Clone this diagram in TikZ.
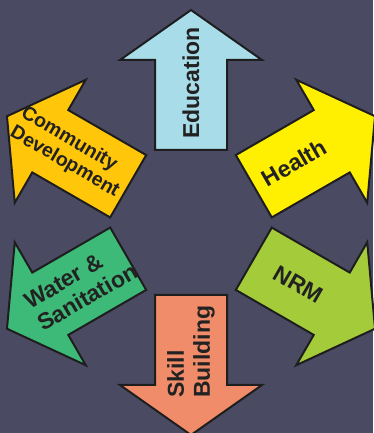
\documentclass[tikz,border=0pt]{standalone}
\usepackage{fontspec}
\setmainfont{Liberation Sans}
\definecolor{bg}{HTML}{4A4A63}
\definecolor{edge}{HTML}{1E1E1E}
\definecolor{txt}{HTML}{222222}
\definecolor{cEdu}{HTML}{A8DCE8}
\definecolor{cHealth}{HTML}{FFEF00}
\definecolor{cNRM}{HTML}{A4CC3A}
\definecolor{cSkill}{HTML}{F08C6A}
\definecolor{cWater}{HTML}{3EBA78}
\definecolor{cComm}{HTML}{FFC60A}
\begin{document}
\begin{tikzpicture}[x=1pt,y=1pt,
  arr/.style={draw=edge, line width=2pt, line join=miter},
  lbl/.style={text=txt, font=\bfseries\fontsize{23}{26}\selectfont, inner sep=0pt, align=left},
  lblsmall/.style={text=txt, font=\bfseries\fontsize{19.5}{22}\selectfont, inner sep=0pt, align=left}]
\useasboundingbox (0,0) rectangle (373,433);
\fill[bg] (0,0) rectangle (373,433);
\coordinate (O) at (191,210.5);
\foreach \ang/\col in {90/cEdu, 30/cHealth, -30/cNRM, 270/cSkill, 210/cWater, 150/cComm}{
  \begin{scope}[shift={(O)}, rotate=\ang]
    \draw[arr, fill=\col] (72.5,-36) -- (162.5,-36) -- (162.5,-71) -- (212.5,0)
      -- (162.5,71) -- (162.5,36) -- (72.5,36) -- cycle;
  \end{scope}
}
\node[lbl, rotate=90] (edu) at ([shift={(90:139.5)}]O) {Education};
\node[lbl, rotate=30] (health) at ([shift={(30:119)}]O) {Health};
\node[lbl, rotate=-30] (nrm) at ([shift={(-30:124)}]O) {NRM};
\node[lbl, rotate=90, anchor=west] (skill) at ([shift={(270:175.5)}]O) {Skill\\Building};
\node[lbl, rotate=30, anchor=west] (water) at ([shift={(210:183)}]O) {Water \&\\Sanitation};
\node[lblsmall, rotate=-30, anchor=west] (comm) at ([shift={(150:201)}]O) {Community\\Development};
\end{tikzpicture}
\end{document}
